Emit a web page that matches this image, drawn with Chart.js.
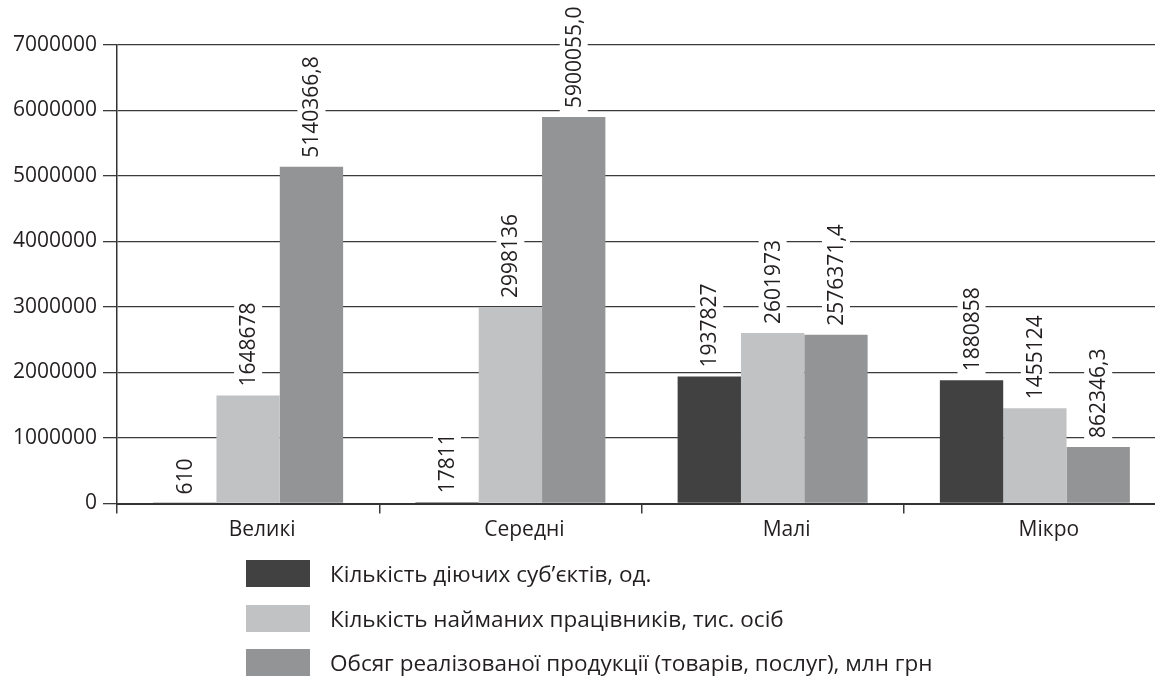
<!DOCTYPE html>
<html><head><meta charset="utf-8">
<script src="https://cdn.jsdelivr.net/npm/chart.js@4.4.0/dist/chart.umd.min.js"></script>
<style>
html,body{margin:0;padding:0;background:#fff;overflow:hidden;width:1155px;height:684px}
#wrap{position:relative;width:1155px;height:684px;overflow:hidden;background:#fff}
#c{position:absolute;left:0;top:0;width:1185px;height:684px}
#legend{position:absolute;left:246px;top:560px;font-family:'Open Sans',sans-serif;font-size:22.5px;color:#231f20}
.item{position:absolute;left:0;height:27px;display:flex;align-items:center;white-space:nowrap}
.sw{width:64px;height:27px;margin-right:20px;flex:none}
</style></head>
<body><div id="wrap"><canvas id="c" width="1185" height="684"></canvas><div id="legend"></div></div>
<script>
const categories = ['Великі', 'Середні', 'Малі', 'Мікро'];
const seriesNames = [
  'Кількість діючих суб’єктів, од.',
  'Кількість найманих працівників, тис. осіб',
  'Обсяг реалізованої продукції (товарів, послуг), млн грн'
];
const activeEntities = [610, 17811, 1937827, 1880858];
const employees = [1648678, 2998136, 2601973, 1455124];
const salesVolume = [5140366.8, 5900055.0, 2576371.4, 862346.3];
const labelDecimals = [0, 0, 1];
const yTickValues = [0, 1000000, 2000000, 3000000, 4000000, 5000000, 6000000, 7000000];
const seriesColors = ['#414141', '#c1c2c4', '#939496'];

const FONT = "'Open Sans', sans-serif";
const TEXT = '#231f20';
const LINE = '#3a3a3a';

const seriesValues = [activeEntities, employees, salesVolume];

const barLabels = {
  id: 'barLabels',
  afterDatasetsDraw(chart) {
    const ctx = chart.ctx;
    ctx.save();
    ctx.font = '21px ' + FONT;
    chart.data.datasets.forEach((ds, i) => {
      const meta = chart.getDatasetMeta(i);
      meta.data.forEach((bar, j) => {
        const txt = ds.data[j].toFixed(labelDecimals[i]).replace('.', ',');
        const w = ctx.measureText(txt).width;
        const gap = 9;
        ctx.save();
        ctx.translate(bar.x, bar.y);
        ctx.rotate(-Math.PI / 2);
        ctx.fillStyle = '#fff';
        ctx.fillRect(gap - 4, -14, w + 8, 28);
        ctx.fillStyle = TEXT;
        ctx.textAlign = 'left';
        ctx.textBaseline = 'middle';
        ctx.fillText(txt, gap, 1);
        ctx.restore();
      });
    });
    ctx.restore();
  }
};

new Chart(document.getElementById('c'), {
  type: 'bar',
  data: {
    labels: categories,
    datasets: seriesValues.map((vals, i) => ({
      label: seriesNames[i],
      data: vals,
      backgroundColor: seriesColors[i],
      borderWidth: 0,
      categoryPercentage: 0.7245,
      barPercentage: 1.0
    }))
  },
  options: {
    responsive: false,
    animation: false,
    devicePixelRatio: 1,
    layout: { padding: { left: 0, top: 45, right: 19, bottom: 130.5 } },
    plugins: { legend: { display: false }, tooltip: { enabled: false } },
    scales: {
      x: {
        offset: true,
        grid: { offset: true, drawOnChartArea: false, drawTicks: true, tickLength: 10, color: LINE, lineWidth: 1.5 },
        border: { display: true, color: '#333', width: 2 },
        ticks: { font: { family: FONT, size: 21 }, color: TEXT, padding: 4, labelOffset: 14, maxRotation: 0 },
        afterFit(scale) { scale.height = 50; }
      },
      y: {
        min: 0, max: 7000000,
        afterBuildTicks(scale) { scale.ticks = yTickValues.map(v => ({ value: v })); },
        grid: { color: LINE, lineWidth: 1.3, drawTicks: true, tickLength: 14 },
        border: { display: true, color: '#333', width: 1.5 },
        ticks: { font: { family: FONT, size: 21 }, color: TEXT, padding: 6, callback: v => String(v) },
        afterFit(scale) { scale.width = 117; }
      }
    }
  },
  plugins: [barLabels]
});

const legend = document.getElementById('legend');
const tops = [0, 45, 89];
seriesNames.forEach((name, i) => {
  const it = document.createElement('div');
  it.className = 'item';
  it.style.top = tops[i] + 'px';
  const sw = document.createElement('div');
  sw.className = 'sw';
  sw.style.background = seriesColors[i];
  const t = document.createElement('span');
  t.textContent = name;
  it.appendChild(sw); it.appendChild(t);
  legend.appendChild(it);
});
</script>
</body></html>
